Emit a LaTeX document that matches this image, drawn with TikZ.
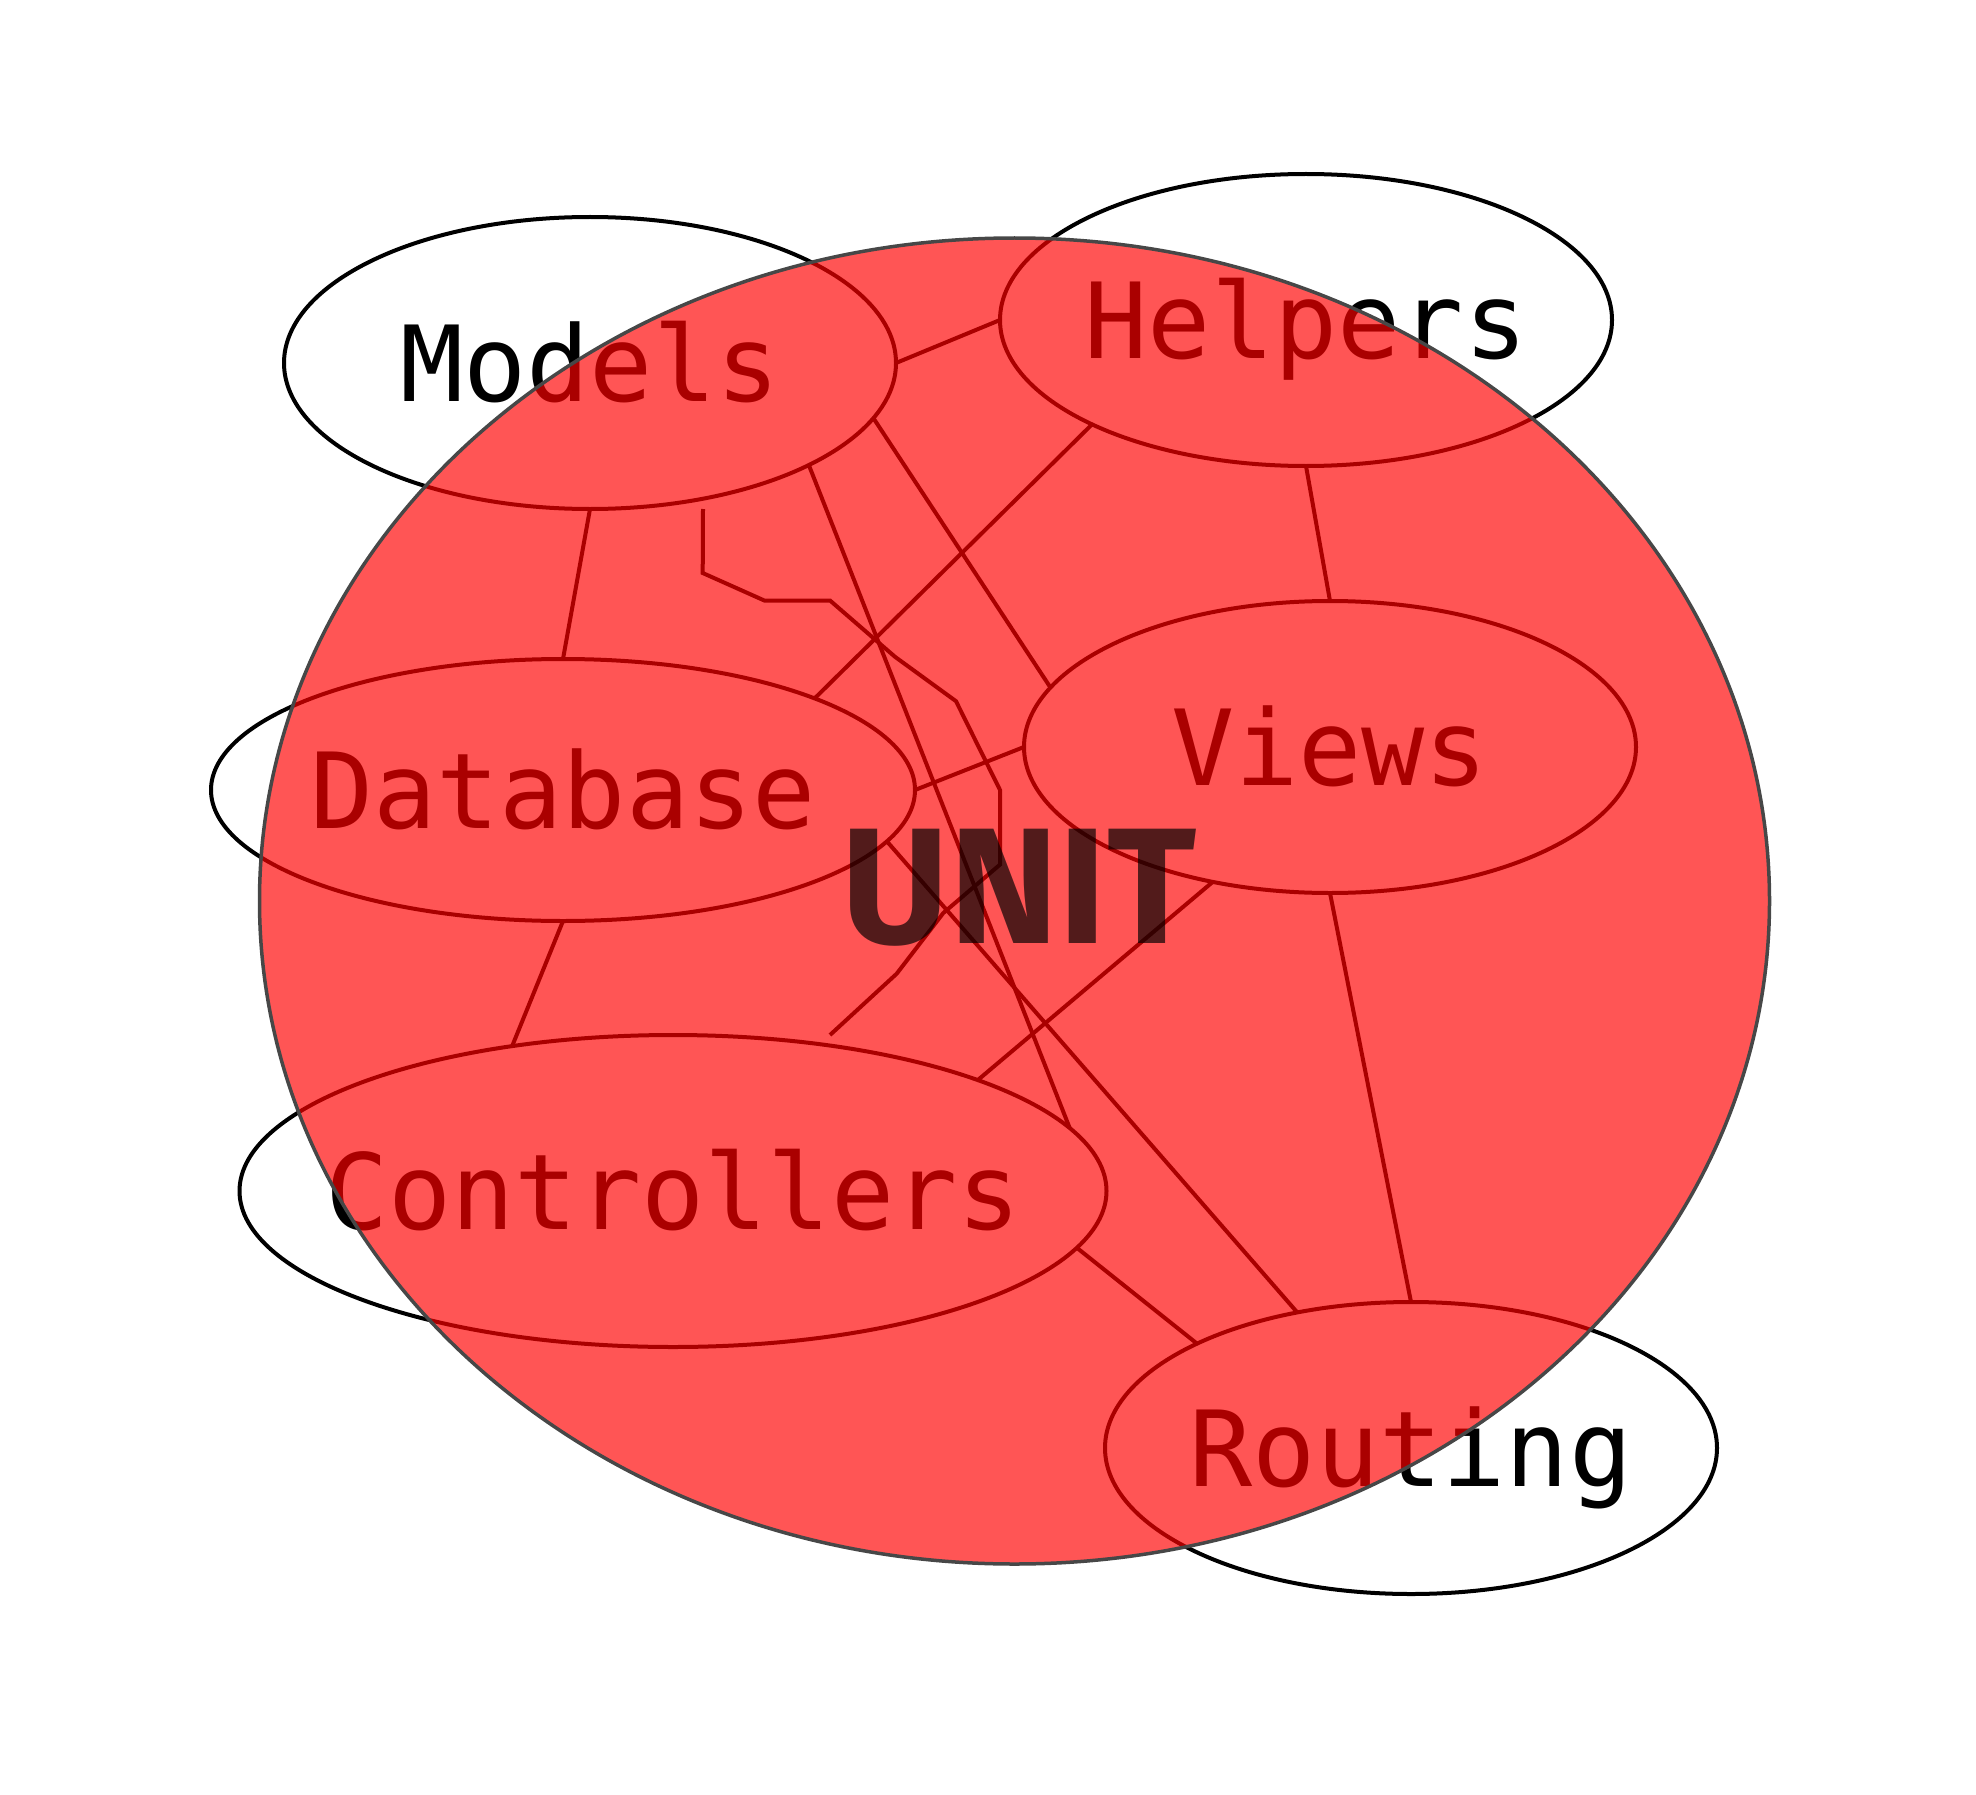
\documentclass[tikz,border=0pt]{standalone}
\usepackage{fontspec}
\setmonofont{DejaVu Sans Mono}
\newfontfamily\unitfont{Fira Sans}
\usetikzlibrary{shapes.geometric}

\newcommand{\partlabel}[1]{\makebox[0pt]{#1}}

\tikzset{
  part/.style={ellipse, draw=black, line width=4pt, inner sep=0pt, outer sep=0pt,
    font=\fontsize{105}{120}\selectfont\ttfamily, text height=76pt, text depth=0pt},
  link/.style={draw=black, line width=4pt},
  unitarea/.style={fill=red, fill opacity=0.667, draw=black!72, line width=3.5pt},
}

\begin{document}
\begin{tikzpicture}[x=1pt, y=-1pt]
    \useasboundingbox (0,0) rectangle (1976,1795);

    % Parts
    \node[part, minimum width=612pt, minimum height=292pt] (models) at (590,363) {\partlabel{Models}};
    \node[part, minimum width=612pt, minimum height=292pt] (helpers) at (1306,320) {\partlabel{Helpers}};
    \node[part, minimum width=704pt, minimum height=262pt] (database) at (563,790) {\partlabel{Database}};
    \node[part, minimum width=612pt, minimum height=292pt] (views) at (1330,747) {\partlabel{Views}};
    \node[part, minimum width=867pt, minimum height=312pt] (controllers) at (673,1191) {\partlabel{Controllers}};
    \node[part, minimum width=612pt, minimum height=292pt] (routing) at (1411,1448) {\partlabel{Routing}};

    % Links between parts
    \draw[link] (models.east) -- (helpers.west);
    \draw[link] (models.south) -- (database.north);
    \draw[link] (helpers.206.2) -- (database.20.7);
    \draw[link] (helpers.south) -- (views.north);
    \draw[link] (models.-11.85) -- (views.168.8);
    \draw[link] (models.-25.75) -- (controllers.9);
    \draw[link] (database.east) -- (views.west);
    \draw[link] (database.south) -- (controllers.138.95);
    \draw[link] (views.229.1) -- (controllers.20);
    \draw[link] (views.south) -- (routing.north);
    \draw[link] (controllers.-8.9) -- (routing.154.7);
    \draw[link] (database.-9) -- (routing.130.6);
    \draw[link] ([xshift=113pt]models.south) -- (702.7,573) -- (764.3,600.5) -- (830,600.5)
        -- (895,656.8) -- (956,701.2) -- (1000,790) -- (1000,864.6) -- (943.3,913)
        -- (896.7,973.7) -- ([xshift=157pt]controllers.north);

    % Unit over everything
    \draw[unitarea] (1014.5,901) ellipse (755pt and 663pt);
    \node[font=\unitfont\bfseries\fontsize{165}{180}\selectfont, text opacity=0.68] (unit) at (1019,888) {UNIT};
\end{tikzpicture}
\end{document}
